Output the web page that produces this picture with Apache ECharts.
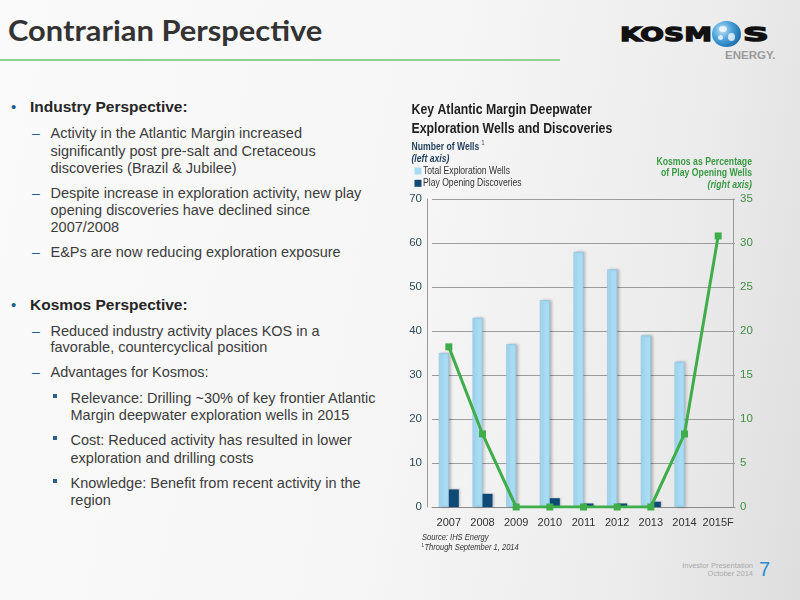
<!DOCTYPE html>
<html>
<head>
<meta charset="utf-8">
<script src="https://cdn.jsdelivr.net/npm/echarts/dist/echarts.min.js"></script>
<style>
  html,body{margin:0;padding:0;}
  body{width:800px;height:600px;overflow:hidden;position:relative;
    background:linear-gradient(100deg,#fafafa 0%,#f6f6f6 50%,#ececec 80%,#dedede 100%);
    font-family:"Liberation Sans",Arial,sans-serif;}
  .ln{position:absolute;white-space:nowrap;height:18px;line-height:18px;font-size:14.5px;color:#3c3c3c;}
  .h{font-size:15.5px;font-weight:bold;color:#262626;}
  .bul{position:absolute;color:#1d5f8d;font-size:15px;line-height:18px;height:18px;}
  .dash{position:absolute;color:#1d5f8d;font-size:14px;line-height:18px;height:18px;}
  .sq{position:absolute;width:4px;height:4px;background:#2a5f8e;}
  #title{position:absolute;left:8px;top:12px;font-family:Lato,"Open Sans",sans-serif;font-weight:700;font-size:29px;color:#333;white-space:nowrap;transform-origin:0 0;}
  #rule{position:absolute;left:0;top:59px;width:560px;height:2px;background:#8fd18f;}
  #chart{position:absolute;left:0;top:0;width:800px;height:600px;}
  .logo{position:absolute;font-family:"DejaVu Sans",sans-serif;font-weight:bold;color:#111;white-space:nowrap;transform-origin:0 0;-webkit-text-stroke:1.3px #111;}
  #globe{position:absolute;left:712px;top:21px;width:29px;height:26px;border-radius:50%;
    background:radial-gradient(circle at 35% 35%,#bfe3f7 0%,#4aa0d8 40%,#1468a8 80%,#0d4f86 100%);}
  .land{position:absolute;background:rgba(255,255,255,0.75);border-radius:50%;}
  #energy{position:absolute;left:725px;top:49px;font-family:"Liberation Sans",sans-serif;font-weight:bold;font-size:11.5px;color:#9a9a9a;}
  .foot{position:absolute;right:47px;font-family:"Liberation Sans",sans-serif;font-size:7.5px;color:#aaa;text-align:right;line-height:8px;}
  #pnum{position:absolute;left:759px;top:558px;font-size:20px;color:#2b8ccf;font-family:"Liberation Sans",sans-serif;}
</style>
</head>
<body>
<div id="title">Contrarian Perspective</div>
<div id="rule"></div>

<div class="logo" id="kosm" style="left:620px;top:22px;font-size:20px;">KOSM</div>
<div id="globe">
  <div class="land" style="left:7px;top:5px;width:8px;height:6px;"></div>
  <div class="land" style="left:16px;top:12px;width:7px;height:8px;"></div>
  <div class="land" style="left:6px;top:14px;width:5px;height:5px;"></div>
</div>
<div class="logo" id="kos2" style="left:743px;top:22px;font-size:20px;">S</div>
<div id="energy">ENERGY.</div>

<!-- Bullets -->
<div class="bul" style="left:11px;top:97.7px;">•</div>
<div class="ln h" style="left:30px;top:97.7px;">Industry Perspective:</div>

<div class="dash" style="left:32px;top:124px;">–</div>
<div class="ln" style="left:50.5px;top:124px;">Activity in the Atlantic Margin increased</div>
<div class="ln" style="left:50.5px;top:141.7px;">significantly post pre-salt and Cretaceous</div>
<div class="ln" style="left:50.5px;top:159px;">discoveries (Brazil &amp; Jubilee)</div>

<div class="dash" style="left:32px;top:184px;">–</div>
<div class="ln" style="left:50.5px;top:184px;">Despite increase in exploration activity, new play</div>
<div class="ln" style="left:50.5px;top:201px;">opening discoveries have declined since</div>
<div class="ln" style="left:50.5px;top:217.7px;">2007/2008</div>

<div class="dash" style="left:32px;top:243px;">–</div>
<div class="ln" style="left:50.5px;top:243px;">E&amp;Ps are now reducing exploration exposure</div>

<div class="bul" style="left:11px;top:296px;">•</div>
<div class="ln h" style="left:30px;top:296px;">Kosmos Perspective:</div>

<div class="dash" style="left:32px;top:321.7px;">–</div>
<div class="ln" style="left:50.5px;top:321.7px;">Reduced industry activity places KOS in a</div>
<div class="ln" style="left:50.5px;top:338.3px;">favorable, countercyclical position</div>

<div class="dash" style="left:32px;top:363.3px;">–</div>
<div class="ln" style="left:50.5px;top:363.3px;">Advantages for Kosmos:</div>

<div class="sq" style="left:53px;top:394px;"></div>
<div class="ln" style="left:70.5px;top:389.3px;">Relevance: Drilling ~30% of key frontier Atlantic</div>
<div class="ln" style="left:70.5px;top:406px;">Margin deepwater exploration wells in 2015</div>

<div class="sq" style="left:53px;top:436px;"></div>
<div class="ln" style="left:70.5px;top:431px;">Cost: Reduced activity has resulted in lower</div>
<div class="ln" style="left:70.5px;top:448.7px;">exploration and drilling costs</div>

<div class="sq" style="left:53px;top:478.5px;"></div>
<div class="ln" style="left:70.5px;top:473.7px;">Knowledge: Benefit from recent activity in the</div>
<div class="ln" style="left:70.5px;top:491px;">region</div>

<div class="foot" style="top:562px;">Investor Presentation</div>
<div class="foot" style="top:570px;">October 2014</div>
<div id="pnum">7</div>

<div id="chart"></div>

<script>
// ---- Data ----
const years = ['2007', '2008', '2009', '2010', '2011', '2012', '2013', '2014', '2015F'];
const totalExplorationWells = [35, 43, 37, 47, 58, 54, 39, 33, null];
const playOpeningDiscoveries = [4, 3, 0, 2, 0.8, 0.8, 1.2, 0, null];
const kosmosPctPlayOpening = [18.2, 8.3, 0, 0, 0, 0, 0, 8.3, 30.8];
const legendNames = ['Total Exploration Wells', 'Play Opening Discoveries'];
const leftAxisMax = 70, leftAxisStep = 10;
const rightAxisMax = 35, rightAxisStep = 5;

// fit title / logo widths
(function(){
  const t = document.getElementById('title');
  t.style.transform = 'scaleX(' + (314 / t.offsetWidth) + ')';
  const k = document.getElementById('kosm');
  k.style.transform = 'scaleX(' + (92 / k.offsetWidth) + ')';
  const s = document.getElementById('kos2');
  s.style.transform = 'scaleX(' + (25 / s.offsetWidth) + ')';
})();

const FONT = '"Liberation Sans", Arial, sans-serif';
const SQUEEZE = 0.82; // emulate a narrow face
const colors = {total: '#a8dcf5', play: '#0e4a75', pct: '#3fad4a'};
const chart = echarts.init(document.getElementById('chart'), null, {renderer: 'canvas'});

function txt(text, x, y, opts) {
  opts = opts || {};
  return {
    type: 'text', x: x, y: y, scaleX: SQUEEZE, silent: true,
    style: {
      text: text,
      fill: opts.fill || '#222',
      font: (opts.italic ? 'italic ' : '') + (opts.bold ? 'bold ' : '') + (opts.size || 11) + 'px ' + FONT,
      textAlign: opts.align || 'left',
      textVerticalAlign: 'middle'
    }
  };
}
function legendSwatch(x, y, color) {
  return {type: 'rect', silent: true, shape: {x: x, y: y - 3.5, width: 7, height: 7}, style: {fill: color}};
}

const option = {
  animation: false,
  backgroundColor: 'transparent',
  grid: {left: 432, right: 65, top: 199, bottom: 93},
  xAxis: {
    type: 'category', data: years,
    axisLine: {lineStyle: {color: '#8a8a8a'}},
    axisTick: {show: false},
    axisLabel: {color: '#333', fontFamily: FONT, fontSize: 11, margin: 10, interval: 0}
  },
  yAxis: [{
    type: 'value', min: 0, max: leftAxisMax, interval: leftAxisStep, position: 'left', offset: 5,
    axisLine: {show: true, lineStyle: {color: '#9a9a9a'}},
    axisTick: {show: false},
    axisLabel: {color: '#2f4a66', fontFamily: FONT, fontSize: 11.5, margin: 5},
    splitLine: {lineStyle: {color: '#9c9c9c'}}
  }, {
    type: 'value', min: 0, max: rightAxisMax, interval: rightAxisStep, position: 'right', offset: -2,
    axisLine: {show: true, lineStyle: {color: '#9a9a9a'}},
    axisTick: {show: false},
    axisLabel: {color: '#3f8f45', fontFamily: FONT, fontSize: 11.5, margin: 7},
    splitLine: {show: false}
  }],
  series: [{
    name: legendNames[0], type: 'bar', data: totalExplorationWells,
    barWidth: 10, barGap: '0%',
    itemStyle: {color: colors.total, borderColor: '#88c4e4', borderWidth: 0.6,
      shadowBlur: 3, shadowColor: 'rgba(0,0,0,0.25)', shadowOffsetX: 2}
  }, {
    name: legendNames[1], type: 'bar', data: playOpeningDiscoveries,
    barWidth: 10,
    itemStyle: {color: colors.play, shadowBlur: 2, shadowColor: 'rgba(0,0,0,0.2)', shadowOffsetX: 1}
  }, {
    name: 'Kosmos as Percentage of Play Opening Wells', type: 'line', yAxisIndex: 1,
    data: kosmosPctPlayOpening, symbol: 'rect', symbolSize: 7, z: 5,
    lineStyle: {color: colors.pct, width: 3},
    itemStyle: {color: colors.pct}
  }],
  graphic: [
    txt('Key Atlantic Margin Deepwater', 411.5, 110, {bold: true, size: 15, fill: '#1e1e1e'}),
    txt('Exploration Wells and Discoveries', 411.5, 129.3, {bold: true, size: 15, fill: '#1e1e1e'}),
    txt('Number of Wells', 411.5, 147.3, {bold: true, size: 10.5, fill: '#1f3e5c'}),
    txt('1', 481.5, 143, {size: 6.5, fill: '#1f3e5c'}),
    txt('(left axis)', 411.5, 159, {bold: true, italic: true, size: 10.5, fill: '#1f3e5c'}),
    legendSwatch(414.5, 171, colors.total),
    txt(legendNames[0], 423, 171, {size: 10.5, fill: '#333'}),
    legendSwatch(414.5, 183.3, colors.play),
    txt(legendNames[1], 423, 183.3, {size: 10.5, fill: '#333'}),
    txt('Kosmos as Percentage', 752, 161.7, {bold: true, size: 10.6, fill: '#3a9a44', align: 'right'}),
    txt('of Play Opening Wells', 752, 173.3, {bold: true, size: 10.6, fill: '#3a9a44', align: 'right'}),
    txt('(right axis)', 752, 185, {bold: true, italic: true, size: 10.6, fill: '#3a9a44', align: 'right'}),
    txt('Source: IHS Energy', 422, 537, {italic: true, size: 9.2, fill: '#333'}),
    txt('1', 421.5, 545, {size: 5.5, fill: '#333'}),
    txt('Through September 1, 2014', 424.5, 547, {italic: true, size: 9.2, fill: '#333'})
  ]
};
chart.setOption(option);
</script>
</body>
</html>
